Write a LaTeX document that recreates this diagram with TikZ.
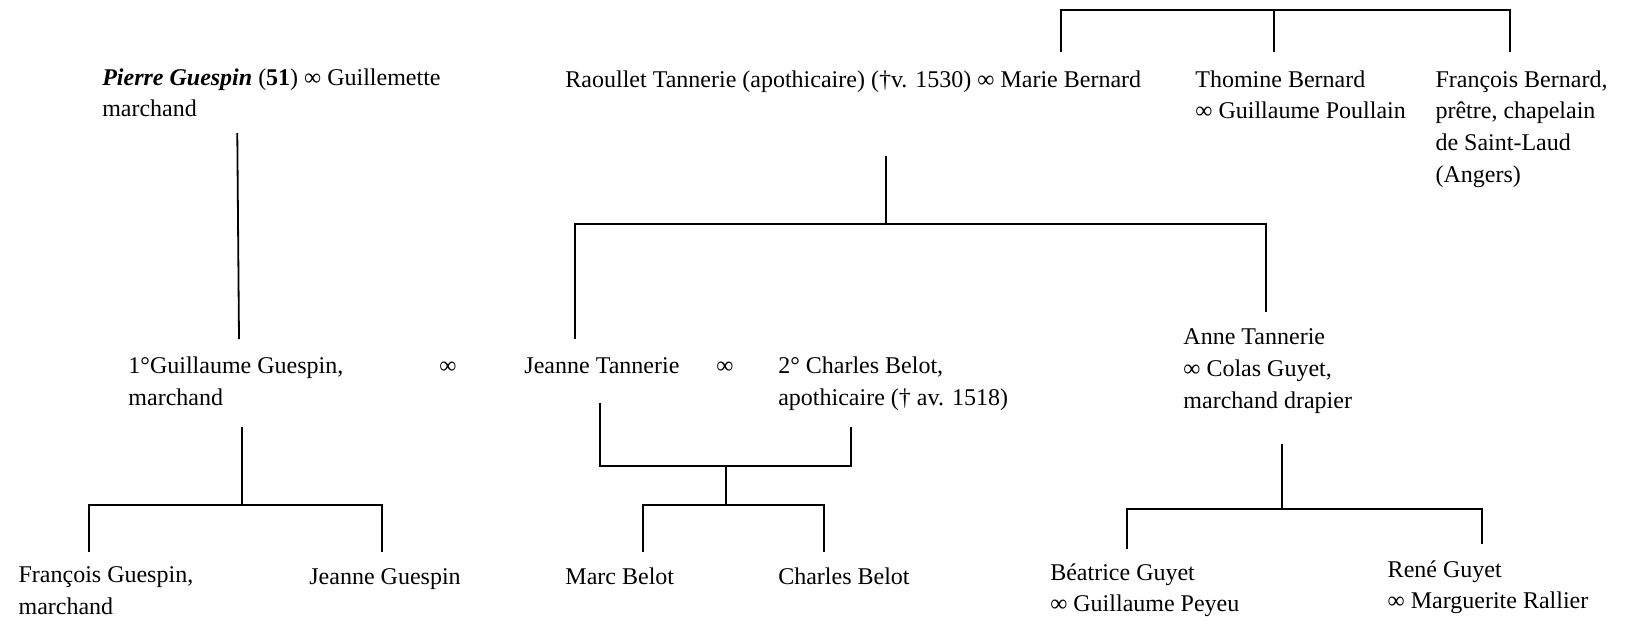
\documentclass[tikz,border=0pt]{standalone}
\usepackage{fontspec}
\setmainfont{Liberation Serif}
\usepackage{tikz}
\usetikzlibrary{positioning}

\begin{document}
\begin{tikzpicture}[
        person/.style = {anchor=base west, inner sep=0pt, align=left, font=\fontsize{12}{15.8}\selectfont},
        wed/.style = {anchor=base, inner sep=0pt, font=\fontsize{12}{15.8}\selectfont},
        link/.style = {line width=0.9pt, draw=black}
    ]
    \useasboundingbox (0,0) rectangle (28.75,-10.90);

    \node [person] (pierre) at (1.79,-2.05) {\textbf{\textit{Pierre Guespin}} (\textbf{51}) ∞ Guillemette\\marchand};
    \node [person] (raoullet) at (9.93,-1.53) {Raoullet Tannerie (apothicaire) (†v. 1530) ∞ Marie Bernard};
    \node [person] (thomine) at (21.00,-2.09) {Thomine Bernard\\∞ Guillaume Poullain};
    \node [person] (francoisb) at (25.22,-3.20) {François Bernard,\\prêtre, chapelain\\de Saint-Laud\\(Angers)};

    \node [person] (guillaume) at (2.25,-7.12) {1°Guillaume Guespin,\\marchand};
    \node [wed] (wed1) at (7.87,-6.56) {∞};
    \node [person] (jeannet) at (9.21,-6.56) {Jeanne Tannerie};
    \node [wed] (wed2) at (12.74,-6.56) {∞};
    \node [person] (charles) at (13.67,-7.12) {2° Charles Belot,\\apothicaire († av. 1518)};
    \node [person] (anne) at (20.79,-7.17) {Anne Tannerie\\∞ Colas Guyet,\\marchand drapier};

    \node [person] (francoisg) at (0.32,-10.79) {François Guespin,\\marchand};
    \node [person] (jeanneg) at (5.43,-10.28) {Jeanne Guespin};
    \node [person] (marc) at (9.93,-10.28) {Marc Belot};
    \node [person] (charlesb) at (13.67,-10.28) {Charles Belot};
    \node [person] (beatrice) at (18.45,-10.75) {Béatrice Guyet\\∞ Guillaume Peyeu};
    \node [person] (rene) at (24.38,-10.70) {René Guyet\\∞ Marguerite Rallier};

    \coordinate (top-l) at (18.65,-0.91);
    \coordinate (top-m) at (22.39,-0.91);
    \coordinate (top-r) at (26.54,-0.91);
    \coordinate (top-bar) at (0,-0.18);
    \draw [link] (top-l) |- (top-bar -| top-r) -- (top-r);
    \draw [link] (top-m) -- (top-m |- top-bar);

    \coordinate (pg-a) at (4.17,-2.34);
    \coordinate (pg-b) at (4.20,-5.96);
    \draw [link] (pg-a) -- (pg-b);

    \coordinate (rt-a) at (15.57,-2.74);
    \coordinate (rt-bar) at (0,-3.94);
    \coordinate (jt-up) at (10.11,-5.96);
    \coordinate (at-up) at (22.25,-5.48);
    \draw [link] (rt-a) -- (rt-a |- rt-bar);
    \draw [link] (jt-up) |- (rt-bar -| at-up) -- (at-up);

    \coordinate (gg-a) at (4.25,-7.50);
    \coordinate (gg-bar) at (0,-8.88);
    \coordinate (fg-up) at (1.56,-9.70);
    \coordinate (jg-up) at (6.71,-9.70);
    \draw [link] (gg-a) -- (gg-a |- gg-bar);
    \draw [link] (fg-up) |- (gg-bar -| jg-up) -- (jg-up);

    \coordinate (jt-dn) at (10.55,-7.08);
    \coordinate (cb-dn) at (14.96,-7.50);
    \coordinate (cpl-bar) at (0,-8.19);
    \draw [link] (jt-dn) |- (cpl-bar -| cb-dn) -- (cb-dn);

    \coordinate (bel-a) at (12.76,-8.19);
    \coordinate (bel-bar) at (0,-8.88);
    \coordinate (mb-up) at (11.30,-9.70);
    \coordinate (cbb-up) at (14.48,-9.70);
    \draw [link] (bel-a) -- (bel-a |- bel-bar);
    \draw [link] (mb-up) |- (bel-bar -| cbb-up) -- (cbb-up);

    \coordinate (ag-a) at (22.53,-7.80);
    \coordinate (ag-bar) at (0,-8.95);
    \coordinate (bg-up) at (19.81,-9.65);
    \coordinate (rg-up) at (26.05,-9.56);
    \draw [link] (ag-a) -- (ag-a |- ag-bar);
    \draw [link] (bg-up) |- (ag-bar -| rg-up) -- (rg-up);
\end{tikzpicture}
\end{document}
